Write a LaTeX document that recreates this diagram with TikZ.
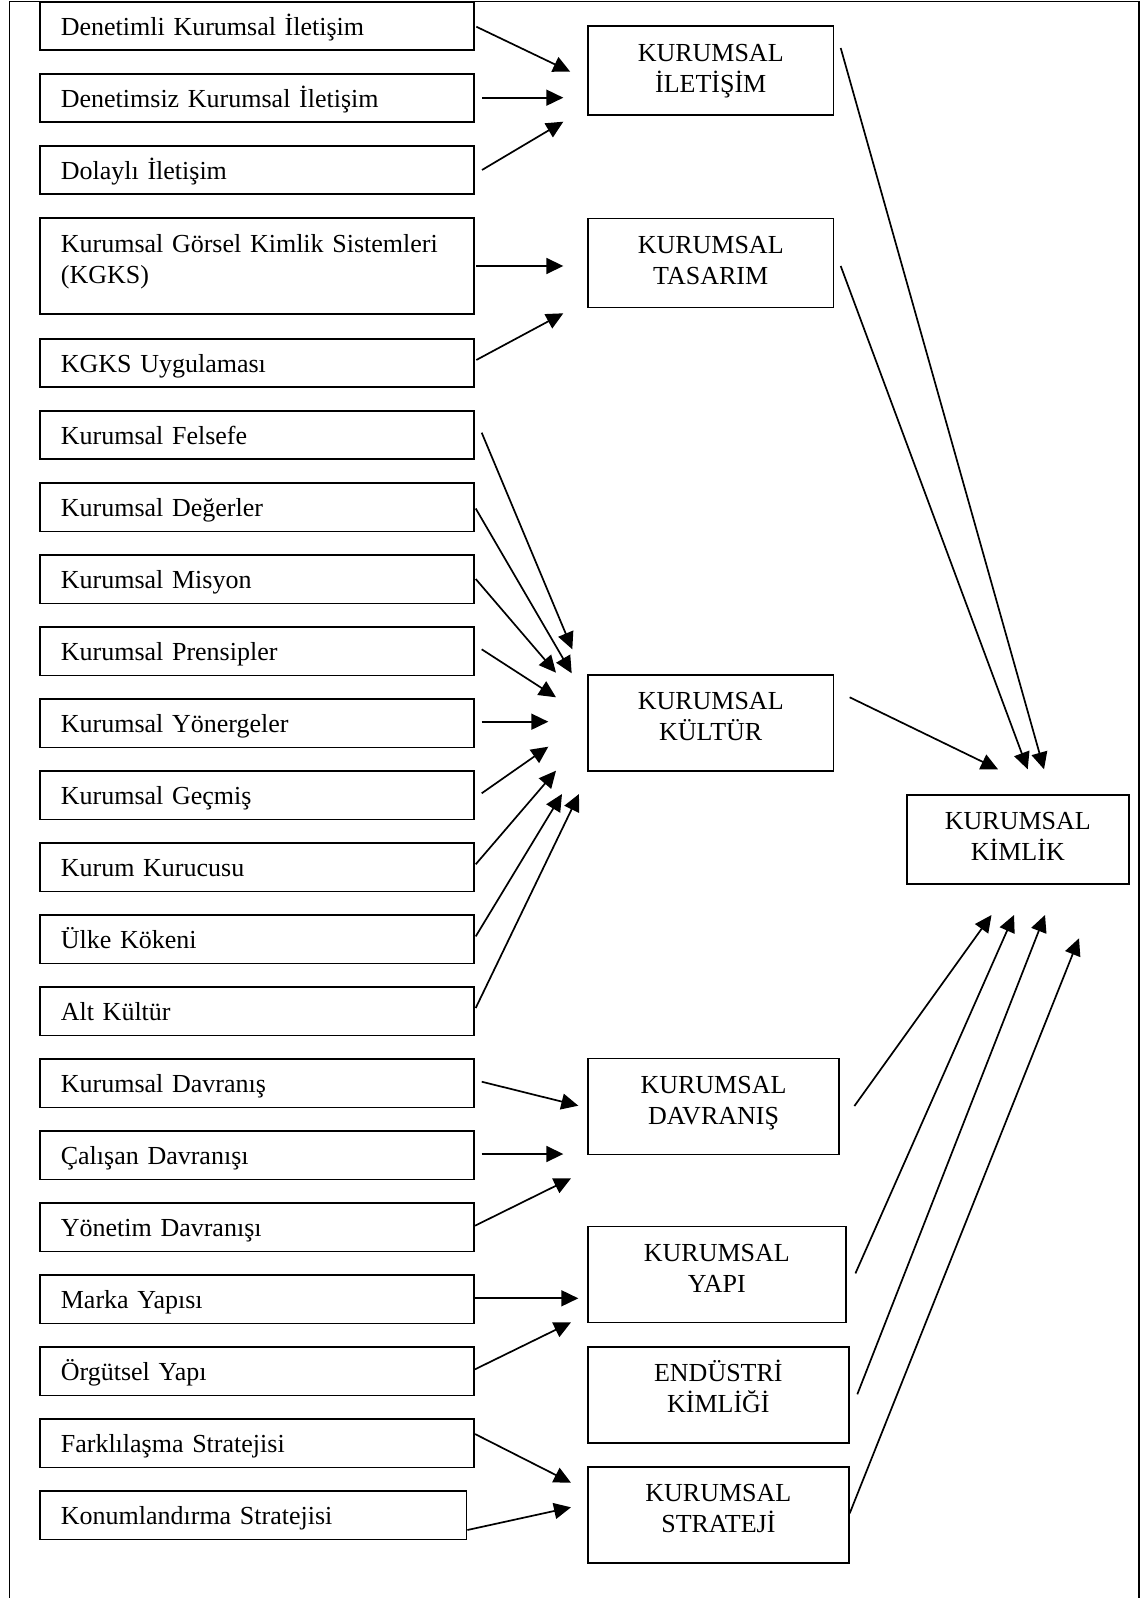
\documentclass[tikz,border=0pt]{standalone}
\usepackage{fontspec}
\setmainfont{Liberation Serif}
\usetikzlibrary{arrows.meta}

\tikzset{
  % left-hand item boxes
  lbox/.style={draw, line width=0.85pt, rectangle, anchor=north west,
    inner xsep=10.3pt, inner ysep=0pt, minimum width=216.95pt,
    minimum height=24.1pt, text width=196.35pt, align=left,
    text height=11pt, text depth=1.4pt},
  % concept boxes in the middle and on the right
  mbox/.style={draw, line width=0.85pt, rectangle, anchor=north west,
    inner sep=0pt, minimum height=48pt, text width=90pt, align=center,
    text height=11pt, text depth=24pt},
  mboxs/.style={mbox, minimum height=44.5pt, text depth=20.5pt},
  arr/.style={line width=0.85pt, -{Triangle[length=8.5pt,width=8pt]}},
  frame/.style={line width=0.65pt},
}

\begin{document}
\begin{tikzpicture}[x=0.5pt, y=-0.5pt,
  font=\fontsize{13pt}{15.5pt}\selectfont]
\useasboundingbox (0,0) rectangle (1144,1598);

% outer frame (open at the bottom)
\draw[frame] (9.2,1598) |- (1139,1.5) -- (1139,1598);

% left column
\node[lbox] (l1)  at (39.4,1.3)    {Denetimli Kurumsal İletişim};
\node[lbox] (l2)  at (39.4,73.3)   {Denetimsiz Kurumsal İletişim};
\node[lbox] (l3)  at (39.4,145.3)  {Dolaylı İletişim};
\node[lbox, minimum height=48pt, text depth=24.6pt] (l4) at (39.4,217.3)
  {Kurumsal Görsel Kimlik Sistemleri\\(KGKS)};
\node[lbox] (l5)  at (39.4,338.3)  {KGKS Uygulaması};
\node[lbox] (l6)  at (39.4,410.3)  {Kurumsal Felsefe};
\node[lbox] (l7)  at (39.4,482.3)  {Kurumsal Değerler};
\node[lbox] (l8)  at (39.4,554.3)  {Kurumsal Misyon};
\node[lbox] (l9)  at (39.4,626.3)  {Kurumsal Prensipler};
\node[lbox] (l10) at (39.4,698.3)  {Kurumsal Yönergeler};
\node[lbox] (l11) at (39.4,770.3)  {Kurumsal Geçmiş};
\node[lbox] (l12) at (39.4,842.3)  {Kurum Kurucusu};
\node[lbox] (l13) at (39.4,914.3)  {Ülke Kökeni};
\node[lbox] (l14) at (39.4,986.3)  {Alt Kültür};
\node[lbox] (l15) at (39.4,1058.3) {Kurumsal Davranış};
\node[lbox] (l16) at (39.4,1130.3) {Çalışan Davranışı};
\node[lbox] (l17) at (39.4,1202.3) {Yönetim Davranışı};
\node[lbox] (l18) at (39.4,1274.3) {Marka Yapısı};
\node[lbox] (l19) at (39.4,1346.3) {Örgütsel Yapı};
\node[lbox] (l20) at (39.4,1418.3) {Farklılaşma Stratejisi};
\node[lbox, minimum width=213.15pt, text width=192.55pt] (l21) at (39.4,1490.3)
  {Konumlandırma Stratejisi};

% middle column
\node[mboxs, minimum width=122.85pt] (m1) at (587,25.3)   {KURUMSAL\\İLETİŞİM};
\node[mboxs, minimum width=122.85pt] (m2) at (587,217.7)  {KURUMSAL\\TASARIM};
\node[mbox,  minimum width=122.85pt] (m3) at (587,674)    {KURUMSAL\\KÜLTÜR};
\node[mbox,  minimum width=125.65pt] (m4) at (587,1057.7) {KURUMSAL\\DAVRANIŞ};
\node[mbox,  minimum width=129pt]    (m5) at (587,1225.7) {KURUMSAL\\YAPI};
\node[mbox,  minimum width=130.5pt]  (m6) at (587,1346)   {ENDÜSTRİ\\KİMLİĞİ};
\node[mbox,  minimum width=130.5pt]  (m7) at (587,1466)   {KURUMSAL\\STRATEJİ};

% right-hand box
\node[mboxs, minimum width=111pt] (k) at (906,794) {KURUMSAL\\KİMLİK};

% items -> KURUMSAL İLETİŞİM
\draw[arr] ([shift={(1.3,25.4)}]l1.north east) -- ([shift={(-16.8,46.4)}]m1.north west);
\draw[arr] ([shift={(7,24.4)}]l2.north east)   -- ([shift={(-23.7,72.4)}]m1.north west);
\draw[arr] ([shift={(7,24.7)}]l3.north east)   -- ([shift={(-23.7,96.4)}]m1.north west);

% items -> KURUMSAL TASARIM
\draw[arr] ([shift={(1.3,48.7)}]l4.north east) -- ([shift={(-23.7,48.3)}]m2.north west);
\draw[arr] ([shift={(1.3,21.7)}]l5.north east) -- ([shift={(-23.7,95.6)}]m2.north west);

% items -> KURUMSAL KÜLTÜR
\draw[arr] ([shift={(6.7,22.4)}]l6.north east)  -- ([shift={(-14.7,-24.7)}]m3.north west);
\draw[arr] ([shift={(0.7,26.2)}]l7.north east)  -- ([shift={(-15.3,-0.7)}]m3.north west);
\draw[arr] ([shift={(0.7,24.7)}]l8.north east)  -- ([shift={(-31,-1.3)}]m3.north west);
\draw[arr] ([shift={(6.7,23)}]l9.north east)    -- ([shift={(-31,23.3)}]m3.north west);
\draw[arr] ([shift={(6.7,23.4)}]l10.north east) -- ([shift={(-38.7,47.7)}]m3.north west);
\draw[arr] ([shift={(6.7,23)}]l11.north east)   -- ([shift={(-38.7,72.7)}]m3.north west);
\draw[arr] ([shift={(0.7,22)}]l12.north east)   -- ([shift={(-31,96.7)}]m3.north west);
\draw[arr] ([shift={(0.7,22.1)}]l13.north east) -- ([shift={(-25,120)}]m3.north west);
\draw[arr] ([shift={(0.7,21.7)}]l14.north east) -- ([shift={(-8,120)}]m3.north west);

% items -> KURUMSAL DAVRANIŞ
\draw[arr] ([shift={(6.7,23.4)}]l15.north east) -- ([shift={(-8.7,48)}]m4.north west);
\draw[arr] ([shift={(6.7,23.7)}]l16.north east) -- ([shift={(-23.7,96.3)}]m4.north west);
\draw[arr] ([shift={(0,23.4)}]l17.north east)   -- ([shift={(-16,120.6)}]m4.north west);

% items -> KURUMSAL YAPI
\draw[arr] ([shift={(0,24)}]l18.north east) -- ([shift={(-8.7,72.6)}]m5.north west);
\draw[arr] ([shift={(0,23)}]l19.north east) -- ([shift={(-16,96.6)}]m5.north west);

% items -> KURUMSAL STRATEJİ
\draw[arr] ([shift={(0,15.7)}]l20.north east) -- ([shift={(-16,16.7)}]m7.north west);
\draw[arr] ([shift={(0,39.7)}]l21.north east) -- ([shift={(-16,41.3)}]m7.north west);

% concepts -> KURUMSAL KİMLİK
\draw[arr] ([shift={(6.3,22.7)}]m1.north east)  -- ([shift={(138,-24.7)}]k.north west);
\draw[arr] ([shift={(6.3,48.3)}]m2.north east)  -- ([shift={(121.7,-24.7)}]k.north west);
\draw[arr] ([shift={(15.3,23.3)}]m3.north east) -- ([shift={(92,-24.7)}]k.north west);
\draw[arr] ([shift={(14.4,48.3)}]m4.north east) -- ([shift={(85.5,121)}]k.north west);
\draw[arr] ([shift={(8.7,47.7)}]m5.north east)  -- ([shift={(108,121)}]k.north west);
\draw[arr] ([shift={(7.6,48.3)}]m6.north east)  -- ([shift={(139,121)}]k.north west);
\draw[arr] ([shift={(0,47.3)}]m7.north east)    -- ([shift={(173,144.3)}]k.north west);
\end{tikzpicture}
\end{document}
